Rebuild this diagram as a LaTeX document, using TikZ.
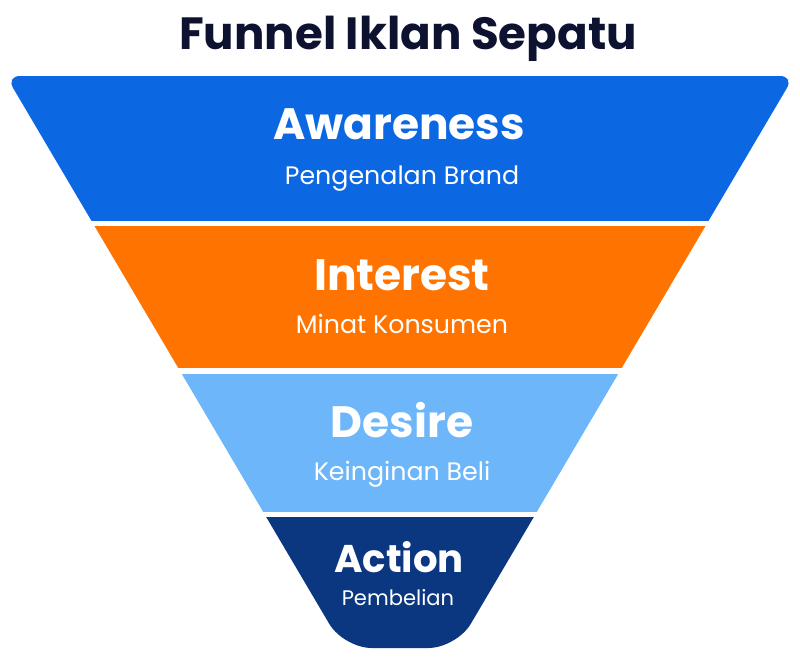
\documentclass[tikz,border=0pt]{standalone}
\usepackage{fontspec}
\setmainfont{Poppins}
\definecolor{awareblue}{RGB}{11,104,226}
\definecolor{interorange}{RGB}{255,115,0}
\definecolor{desireblue}{RGB}{110,182,250}
\definecolor{actionnavy}{RGB}{11,54,128}
\definecolor{titleink}{RGB}{12,18,48}
\tikzset{
  funnel/.style={insert path={(6,76) -- (794,76) -- (456.5,648) -- (343.5,648) -- cycle}},
  head/.style={text=white,anchor=base,font=\bfseries\fontsize{25}{30}\selectfont},
  sub/.style={text=white,anchor=base,font=\fontsize{14.4}{18}\selectfont}
}

\begin{document}
\begin{tikzpicture}[x=0.02cm,y=-0.02cm,line join=round]
\useasboundingbox (0,0) rectangle (800,663);
% --- title
\node[titleink,anchor=base,font=\bfseries\fontsize{25.7}{30}\selectfont] (title) at (408,49) {Funnel Iklan Sepatu};
% --- bands, each cut out of the whole funnel
\begin{scope}
\clip (0,76) rectangle (800,220);
\fill[awareblue,rounded corners=8pt,funnel];
\end{scope}
\begin{scope}
\clip (0,226) rectangle (800,367);
\fill[interorange,funnel];
\end{scope}
\begin{scope}
\clip (0,374) rectangle (800,511);
\fill[desireblue,funnel];
\end{scope}
\begin{scope}
\clip (0,517) rectangle (800,648);
\fill[actionnavy,rounded corners=16pt,funnel];
\end{scope}
% --- labels
\node[head] (aware) at (399,139) {Awareness};
\node[sub] (awaresub) at (402,184) {Pengenalan Brand};
\node[head] (inter) at (402,290) {Interest};
\node[sub] (intersub) at (402,333) {Minat Konsumen};
\node[head] (desire) at (402,437) {Desire};
\node[sub] (desiresub) at (402,480) {Keinginan Beli};
\node[head,font=\bfseries\fontsize{22}{26}\selectfont] (action) at (399,572) {Action};
\node[sub,font=\fontsize{12}{15}\selectfont] (actionsub) at (398,605) {Pembelian};
\end{tikzpicture}
\end{document}
